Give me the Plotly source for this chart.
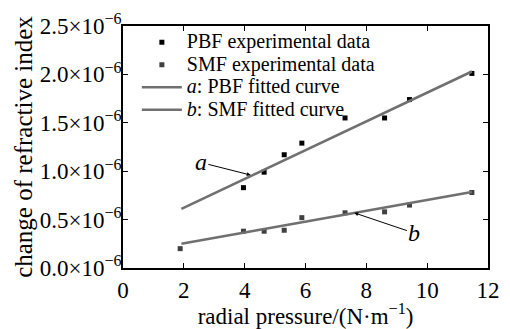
import plotly.graph_objects as go

# radial pressure (N/m)
pbf_x = [3.96, 4.64, 5.3, 5.88, 7.3, 8.6, 9.42, 11.47]
pbf_dn = [0.83, 0.99, 1.17, 1.29, 1.55, 1.55, 1.74, 2.01]   # x1e-6
smf_x = [1.88, 3.96, 4.64, 5.3, 5.88, 7.3, 8.6, 9.42, 11.47]
smf_dn = [0.20, 0.38, 0.38, 0.39, 0.52, 0.57, 0.58, 0.65, 0.78]  # x1e-6
fit_x = [1.92, 11.47]
pbf_fit = [0.61, 2.03]
smf_fit = [0.25, 0.785]

y_ticks = [0.0, 0.5, 1.0, 1.5, 2.0, 2.5]
y_ticktext = [f"{v:.1f}×10<sup>−6</sup>" for v in y_ticks]
x_ticks = [0, 2, 4, 6, 8, 10, 12]
legend_names = ["PBF experimental data", "SMF experimental data",
                "<i>a</i>: PBF fitted curve", "<i>b</i>: SMF fitted curve"]

FONT = "Liberation Serif"
LINE_C = "#707070"
LEG = '<span style="font-size:20px">{}</span>'

fig = go.Figure()
fig.add_trace(go.Scatter(x=pbf_x, y=pbf_dn, mode="markers", name=LEG.format(legend_names[0]),
                         marker=dict(symbol="square", size=5, color="#000000")))
fig.add_trace(go.Scatter(x=smf_x, y=smf_dn, mode="markers", name=LEG.format(legend_names[1]),
                         marker=dict(symbol="square", size=5, color="#404040")))
fig.add_trace(go.Scatter(x=fit_x, y=pbf_fit, mode="lines", name=LEG.format(legend_names[2]),
                         line=dict(color=LINE_C, width=2.5)))
fig.add_trace(go.Scatter(x=fit_x, y=smf_fit, mode="lines", name=LEG.format(legend_names[3]),
                         line=dict(color=LINE_C, width=2.5)))

fig.add_annotation(x=4.2, y=0.96, ax=2.56, ay=1.09, axref="x", ayref="y",
                   text="<i>a</i>", showarrow=True, arrowhead=2, arrowsize=0.8,
                   arrowwidth=1, arrowcolor="#000", font=dict(family=FONT, size=24, color="#000"))
fig.add_annotation(x=7.6, y=0.57, ax=9.58, ay=0.36, axref="x", ayref="y",
                   text="<i>b</i>", showarrow=True, arrowhead=2, arrowsize=0.8,
                   arrowwidth=1, arrowcolor="#000", font=dict(family=FONT, size=24, color="#000"))

axis_common = dict(showline=True, linecolor="#000", linewidth=1.5, mirror="ticks",
                   ticks="inside", ticklen=5, tickcolor="#000", tickwidth=1,
                   showgrid=False, zeroline=False,
                   tickfont=dict(family=FONT, size=23, color="#000"))

fig.update_layout(
    width=510, height=329,
    margin=dict(l=123, r=10, t=18, b=48),
    paper_bgcolor="white", plot_bgcolor="white",
    font=dict(family=FONT, color="#000"),
    xaxis=dict(range=[0, 12], tickvals=x_ticks, ticklabelstandoff=1,
               title=dict(text="radial pressure/(N·m<sup>−1</sup>)", font=dict(family=FONT, size=23), standoff=0),
               **axis_common),
    yaxis=dict(range=[0, 2.5], tickvals=y_ticks, ticktext=y_ticktext, ticklabelstandoff=-5,
               title=dict(text="change of refractive index", font=dict(family=FONT, size=25), standoff=0),
               **axis_common),
    legend=dict(x=0.038, y=1.0, xanchor="left", yanchor="top", bgcolor="rgba(0,0,0,0)",
                font=dict(family=FONT, size=15, color="#000"), tracegroupgap=0,
                itemwidth=40),
    showlegend=True,
)

fig.write_html("out.html")
